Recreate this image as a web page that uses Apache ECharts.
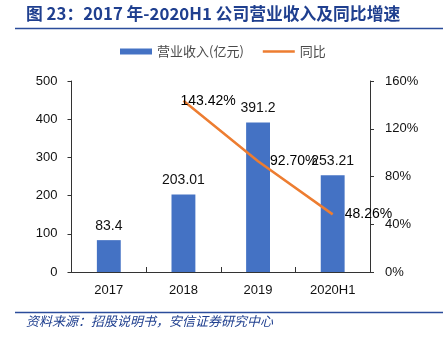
<!DOCTYPE html>
<html><head><meta charset="utf-8">
<script src="https://cdn.jsdelivr.net/npm/echarts@6/dist/echarts.min.js"></script>
<style>html,body{margin:0;padding:0;background:#fff}#c{width:443px;height:338px}</style>
</head><body><div id="c"></div>
<script>
const categories = ['2017', '2018', '2019', '2020H1'];
const revenue = [83.4, 203.01, 391.2, 253.21];
const growth = [null, 143.42, 92.70, 48.26];
const revenueLabels = ['83.4', '203.01', '391.2', '253.21'];
const growthLabels = ['', '143.42%', '92.70%', '48.26%'];
const leftTicks = [0, 100, 200, 300, 400, 500];
const rightTicks = [0, 40, 80, 120, 160];

const titleText = '图 23：2017 年-2020H1 公司营业收入及同比增速';
const sourceText = '资料来源：招股说明书，安信证券研究中心';
const seriesNames = ['营业收入(亿元)', '同比'];

const chart = echarts.init(document.getElementById('c'), null, {renderer: 'canvas'});
const numFont = '"Liberation Sans", Arial, sans-serif';
const cjkFont = '"Noto Sans CJK SC", "Liberation Sans", sans-serif';
const lineDist = [0, -3, 12, 12];

chart.setOption({
  animation: false,
  graphic: [
    {type: 'text', left: 26, top: 5, style: {text: titleText, font: 'bold 16.8px ' + cjkFont, fill: '#1F3F8F'}},
    {type: 'line', shape: {x1: 15, y1: 28.5, x2: 443, y2: 28.5}, style: {stroke: '#2B4C9B', lineWidth: 1.5}},
    {type: 'line', shape: {x1: 15, y1: 312.5, x2: 443, y2: 312.5}, style: {stroke: '#2B4C9B', lineWidth: 1.5}},
    {type: 'text', left: 26, top: 315, style: {text: sourceText, font: 'italic 13px ' + cjkFont, fill: '#1F3F8F'}}
  ],
  legend: {
    left: 120, top: 45, padding: 0, itemGap: 19, itemWidth: 32, itemHeight: 6,
    textStyle: {fontSize: 13, color: '#4a4a4a', fontFamily: cjkFont},
    data: [
      {name: seriesNames[0], icon: 'rect'},
      {name: seriesNames[1], icon: 'path://M0,0 M0,1.8 H32 V4.2 H0 Z M32,6', itemStyle: {color: '#ED7D31'}}
    ]
  },
  grid: {left: 71.5, right: 73, top: 81, bottom: 66, containLabel: false},
  xAxis: {
    type: 'category', data: categories, boundaryGap: true,
    axisLine: {lineStyle: {color: '#333', width: 1}},
    axisTick: {show: true, inside: true, length: 5, alignWithLabel: false, lineStyle: {color: '#333'}},
    axisLabel: {fontSize: 13, color: '#111', margin: 12, fontFamily: numFont},
    splitLine: {show: false}
  },
  yAxis: [
    {
      type: 'value', min: leftTicks[0], max: leftTicks[leftTicks.length - 1], interval: 100,
      axisLine: {show: true, lineStyle: {color: '#333'}},
      axisTick: {show: true, length: 4, lineStyle: {color: '#333'}},
      axisLabel: {fontSize: 13, color: '#111', margin: 14, fontFamily: numFont},
      splitLine: {show: false}
    },
    {
      type: 'value', min: rightTicks[0], max: rightTicks[rightTicks.length - 1], interval: 40,
      axisLine: {show: true, lineStyle: {color: '#333'}},
      axisTick: {show: true, length: 4, lineStyle: {color: '#333'}},
      axisLabel: {fontSize: 13, color: '#111', margin: 15, fontFamily: numFont, formatter: '{value}%'},
      splitLine: {show: false}
    }
  ],
  series: [
    {
      name: seriesNames[0], type: 'bar', yAxisIndex: 0, barWidth: '32%',
      itemStyle: {color: '#4472C4'},
      data: revenue,
      label: {show: true, position: 'top', distance: 7, fontSize: 14, color: '#111', fontFamily: numFont,
        formatter: p => revenueLabels[p.dataIndex]}
    },
    {
      name: seriesNames[1], type: 'line', yAxisIndex: 1, symbol: 'none',
      lineStyle: {color: '#ED7D31', width: 2.5}, itemStyle: {color: '#ED7D31'},
      data: growth,
      z: 5
    },
    {
      name: 'growth-labels', type: 'scatter', yAxisIndex: 1, symbolSize: 0,
      itemStyle: {color: '#ED7D31', opacity: 1},
      data: growth.map((v, i) => ({value: v, label: {distance: lineDist[i]}})),
      label: {show: true, position: 'right', fontSize: 14, color: '#000', opacity: 1, fontFamily: numFont,
        formatter: p => growthLabels[p.dataIndex]},
      emphasis: {disabled: true},
      z: 6, silent: true
    }
  ]
});
</script></body></html>
